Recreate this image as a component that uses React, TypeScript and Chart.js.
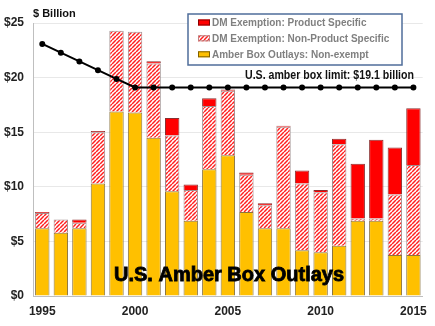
import React, { useEffect, useRef } from "react";
import { Chart, registerables } from "chart.js";

Chart.register(...registerables);

const years = ["1995","1996","1997","1998","1999","2000","2001","2002","2003","2004","2005","2006","2007","2008","2009","2010","2011","2012","2013","2014","2015"];
const amberNonExempt = [6.2,5.8,6.2,10.3,16.9,16.8,14.5,9.6,6.9,11.6,12.9,7.7,6.2,6.2,4.2,4.0,4.6,6.9,6.9,3.75,3.75];
const dmNonProduct = [1.4,1.2,0.5,4.7,7.4,7.4,6.8,5.1,2.8,5.8,5.9,3.4,2.1,9.3,6.1,5.5,9.3,0.2,0.2,5.55,8.25];
const dmProduct = [0.1,0,0.3,0.1,0,0,0.2,1.6,0.5,0.7,0.1,0.2,0.2,0.1,1.2,0.2,0.5,5.0,7.2,4.3,5.2];
const amberLimit = [23.08,22.28,21.48,20.68,19.88,19.1,19.1,19.1,19.1,19.1,19.1,19.1,19.1,19.1,19.1,19.1,19.1,19.1,19.1,19.1,19.1];
const yTicks = [0,5,10,15,20,25];
const xTickYears = ["1995","2000","2005","2010","2015"];

function makeHatch(): CanvasPattern | string {
  const n = 4;
  const c = document.createElement("canvas");
  c.width = n; c.height = n;
  const g = c.getContext("2d");
  if (!g) return "#ff8080";
  g.fillStyle = "#ffffff";
  g.fillRect(0, 0, n, n);
  g.strokeStyle = "#ff2020";
  g.lineWidth = 1.5;
  for (const o of [-n, 0, n]) {
    g.beginPath();
    g.moveTo(o, n);
    g.lineTo(o + n, 0);
    g.stroke();
  }
  const p = g.createPattern(c, "repeat");
  return p || "#ff8080";
}

export default function App() {
  const ref = useRef<HTMLCanvasElement>(null);
  useEffect(() => {
    if (!ref.current) return;
    const hatch = makeHatch();
    const overlay = {
      id: "overlay",
      afterDatasetsDraw(chart: any) {
        const ctx = chart.ctx;
        ctx.save();
        ctx.fillStyle = "#111";
        ctx.font = "bold 11px 'Liberation Sans', Arial, sans-serif";
        ctx.textBaseline = "middle";
        ctx.textAlign = "left";
        ctx.fillText("$ Billion", 33, 14);
        ctx.font = "bold 12px 'Liberation Sans', Arial, sans-serif";
        ctx.fillStyle = "#111";
        ctx.fillText("U.S. amber box limit: $19.1 billion", 245, 75.5, 169);
        ctx.font = "bold 20px 'Liberation Sans', Arial, sans-serif";
        ctx.textBaseline = "alphabetic";
        ctx.fillStyle = "#000";
        ctx.strokeStyle = "#000";
        ctx.lineWidth = 0.8;
        ctx.fillText("U.S. Amber Box Outlays", 114, 281, 250);
        ctx.strokeText("U.S. Amber Box Outlays", 114, 281, 250);
        ctx.fillStyle = "#ffffff";
        ctx.fillRect(188, 14, 214, 51);
        ctx.strokeStyle = "#4f6d9a";
        ctx.lineWidth = 1.5;
        ctx.strokeRect(188, 14, 214, 51);
        const items = [
          { label: "DM Exemption: Product Specific", fill: "#ff0000", border: "#8a0000", y: 22.5 },
          { label: "DM Exemption: Non-Product Specific", fill: hatch, border: "#c08080", y: 38.3 },
          { label: "Amber Box Outlays: Non-exempt", fill: "#ffc000", border: "#7f6000", y: 54.3 },
        ];
        ctx.font = "bold 10px 'Liberation Sans', Arial, sans-serif";
        ctx.textBaseline = "middle";
        for (const it of items) {
          ctx.fillStyle = it.fill as any;
          ctx.fillRect(198, it.y - 3, 12, 6);
          ctx.strokeStyle = it.border;
          ctx.lineWidth = 1;
          ctx.strokeRect(198.5, it.y - 2.5, 11, 5);
          ctx.fillStyle = "#808080";
          ctx.fillText(it.label, 212, it.y + 0.5);
        }
        ctx.restore();
      },
    };
    const chart = new Chart(ref.current, {
      type: "bar",
      data: {
        labels: years,
        datasets: [
          {
            type: "line",
            label: "U.S. amber box limit",
            data: amberLimit,
            borderColor: "#000",
            backgroundColor: "#000",
            borderWidth: 2,
            pointRadius: 2,
            pointBackgroundColor: "#000",
            pointBorderColor: "#000",
            stack: "limit",
            order: 0,
          } as any,
          {
            label: "Amber Box Outlays: Non-exempt",
            data: amberNonExempt,
            backgroundColor: "#ffc000",
            borderColor: "#8a7440",
            borderWidth: 1,
            stack: "bars",
            order: 1,
          },
          {
            label: "DM Exemption: Non-Product Specific",
            data: dmNonProduct,
            backgroundColor: hatch as any,
            borderColor: "#a09090",
            borderWidth: 1,
            stack: "bars",
            order: 1,
          },
          {
            label: "DM Exemption: Product Specific",
            data: dmProduct,
            backgroundColor: "#ff0000",
            borderColor: "#8a3030",
            borderWidth: 1,
            stack: "bars",
            order: 1,
          },
        ],
      },
      options: {
        animation: false,
        responsive: false,
        maintainAspectRatio: false,
        layout: { padding: { top: 23, right: 10, left: 0, bottom: 0 } },
        datasets: { bar: { categoryPercentage: 0.8, barPercentage: 0.97 } } as any,
        plugins: { legend: { display: false }, tooltip: { enabled: false } },
        scales: {
          x: {
            stacked: true,
            grid: { display: false, drawTicks: false },
            border: { display: true, color: "#bfbfbf", width: 1 },
            ticks: {
              autoSkip: false,
              maxRotation: 0,
              padding: 8,
              color: "#222",
              font: { family: "'Liberation Sans', Arial, sans-serif", size: 12, weight: "bold" },
              callback: (_v: any, i: number) => (xTickYears.includes(years[i]) ? years[i] : ""),
            },
            afterFit: (s: any) => { s.height = 30; },
          },
          y: {
            stacked: true,
            min: 0,
            max: 25,
            afterBuildTicks: (s: any) => { s.ticks = yTicks.map((v) => ({ value: v })); },
            grid: { color: "#e8e8e8", drawTicks: false },
            border: { display: true, color: "#bfbfbf", width: 1 },
            ticks: {
              padding: 9,
              color: "#222",
              font: { family: "'Liberation Sans', Arial, sans-serif", size: 12, weight: "bold" },
              callback: (v: any) => "$" + v,
            },
            afterFit: (s: any) => { s.width = 33; },
          },
        },
      },
      plugins: [overlay],
    });
    return () => chart.destroy();
  }, []);
  return (
    <div style={{ position: "fixed", left: 0, top: 0, width: 435, height: 326, background: "#fff" }}>
      <canvas ref={ref} width={435} height={326} style={{ width: 435, height: 326, display: "block" }} />
    </div>
  );
}
